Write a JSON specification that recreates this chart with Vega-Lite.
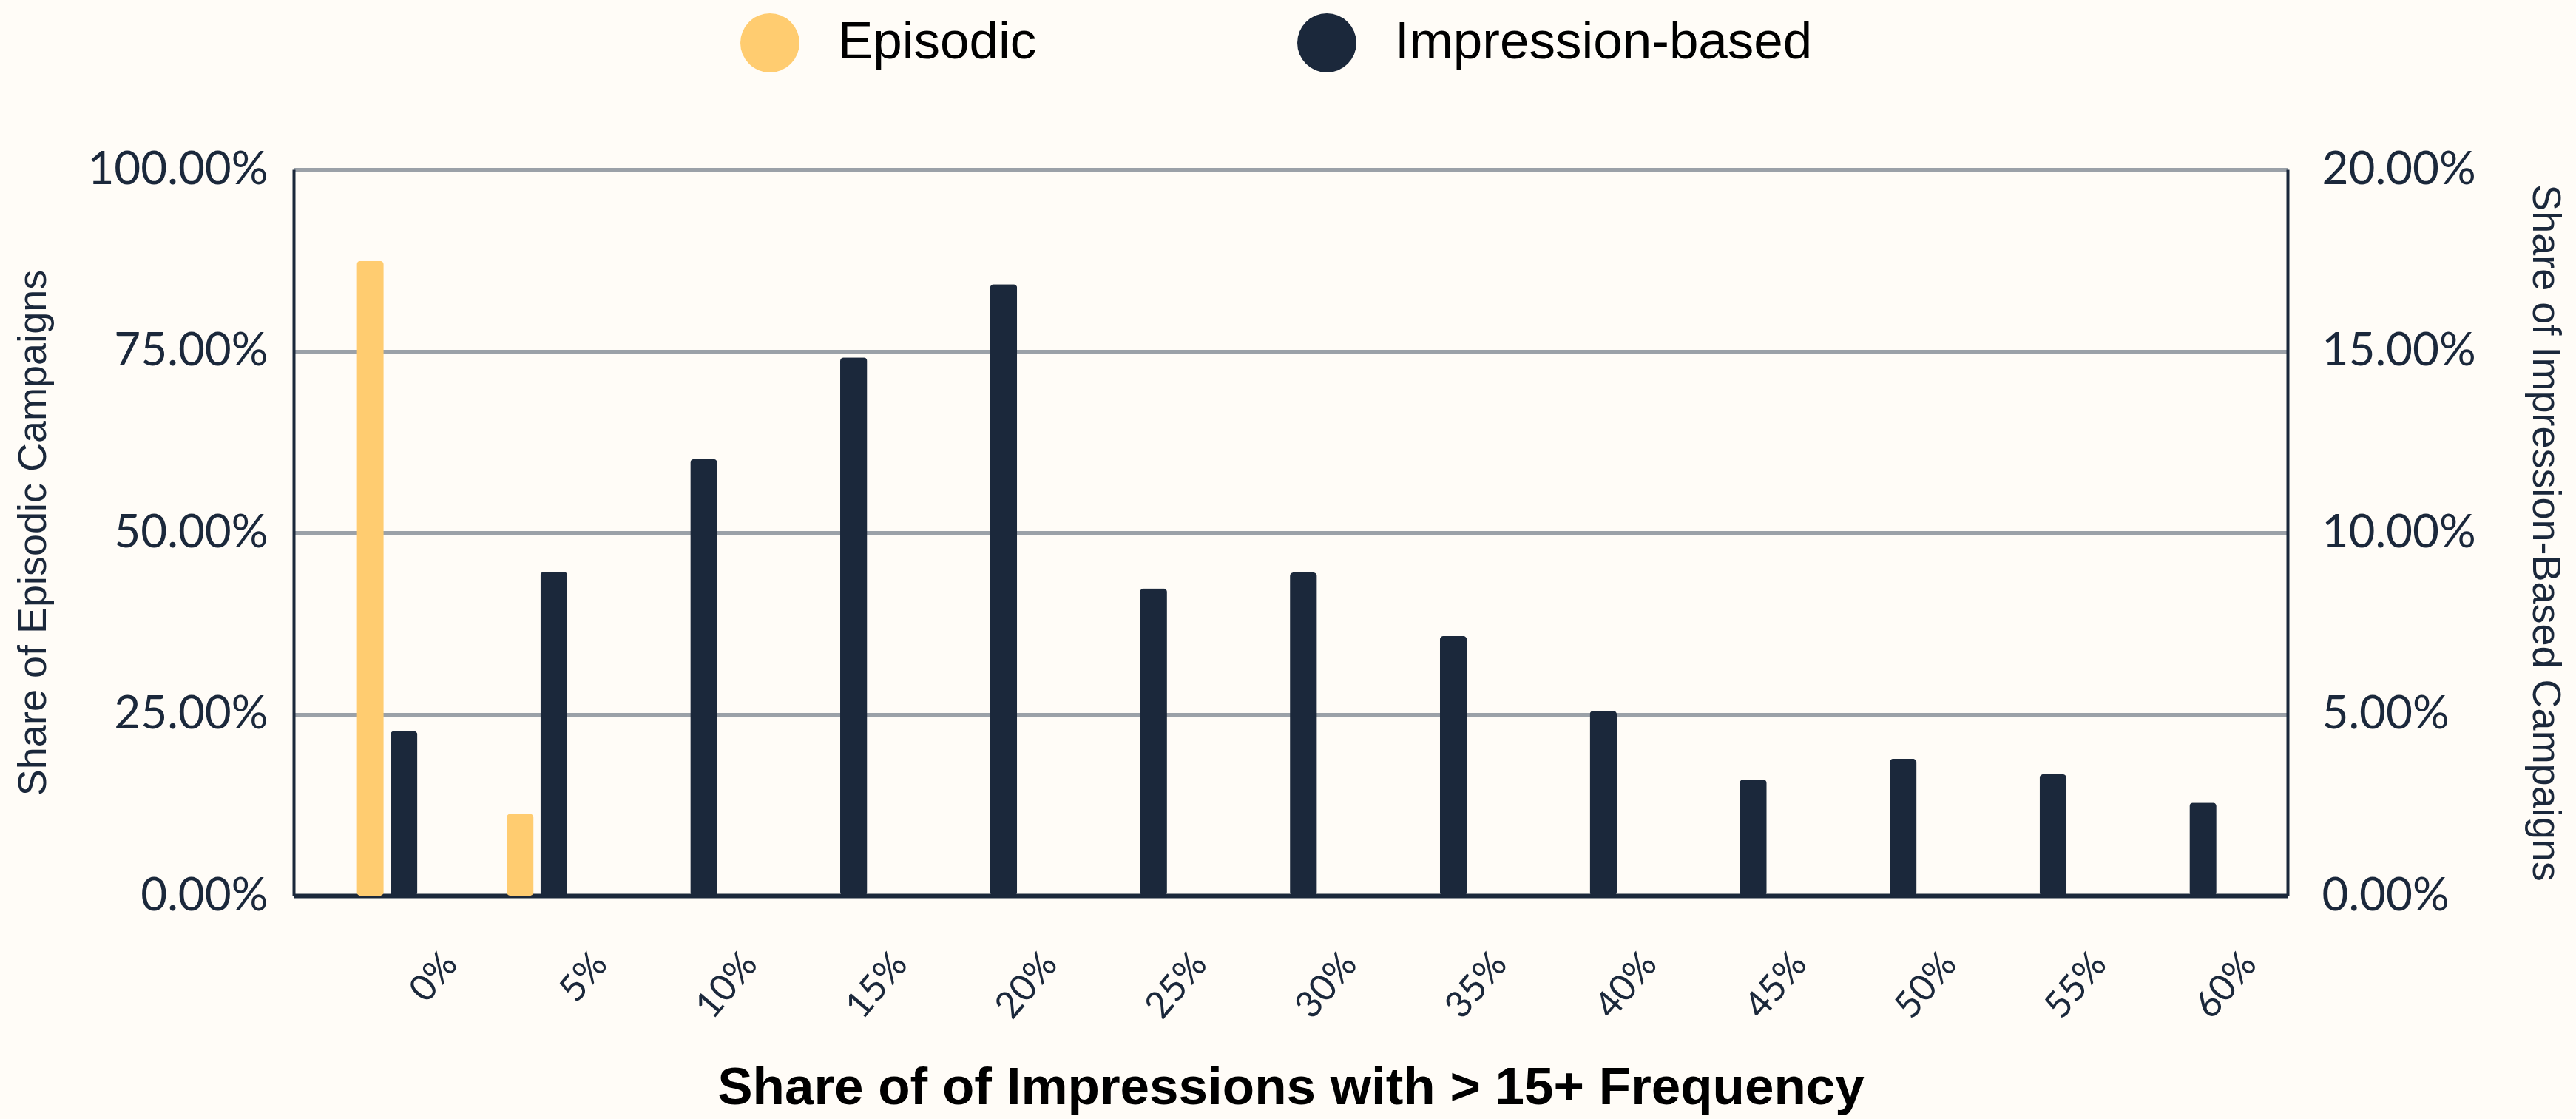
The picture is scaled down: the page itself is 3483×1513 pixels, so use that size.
{
  "$schema": "https://vega.github.io/schema/vega-lite/v6.json",
  "width": 2696,
  "height": 982,
  "autosize": {"type": "none"},
  "padding": {"left": 397, "top": 229, "right": 390, "bottom": 302},
  "background": "#FFFCF7",
  "config": {
    "view": {"stroke": null},
    "axis": {"zindex": 0, "labelLimit": 0}
  },
  "data": {
    "values": [
      {"bucket": "0%", "series": "Episodic", "value": 0.874},
      {"bucket": "5%", "series": "Episodic", "value": 0.1125},
      {"bucket": "0%", "series": "Impression-based", "value": 0.0453},
      {"bucket": "5%", "series": "Impression-based", "value": 0.0892},
      {"bucket": "10%", "series": "Impression-based", "value": 0.1202},
      {"bucket": "15%", "series": "Impression-based", "value": 0.1482},
      {"bucket": "20%", "series": "Impression-based", "value": 0.1684},
      {"bucket": "25%", "series": "Impression-based", "value": 0.0846},
      {"bucket": "30%", "series": "Impression-based", "value": 0.0890},
      {"bucket": "35%", "series": "Impression-based", "value": 0.0715},
      {"bucket": "40%", "series": "Impression-based", "value": 0.0509},
      {"bucket": "45%", "series": "Impression-based", "value": 0.0320},
      {"bucket": "50%", "series": "Impression-based", "value": 0.0377},
      {"bucket": "55%", "series": "Impression-based", "value": 0.0334},
      {"bucket": "60%", "series": "Impression-based", "value": 0.0256}
    ]
  },
  "encoding": {
    "x": {
      "field": "bucket",
      "type": "nominal",
      "scale": {
        "domain": ["0%", "5%", "10%", "15%", "20%", "25%", "30%", "35%", "40%", "45%", "50%", "55%", "60%"],
        "paddingInner": 0.595,
        "paddingOuter": 0.4476,
        "align": 0.47
      },
      "title": "Share of of Impressions with > 15+ Frequency",
      "axis": {
        "labelAngle": -50,
        "labelAlign": "right",
        "labelBaseline": "middle",
        "labelFont": "Lato",
        "labelFontSize": 50,
        "labelColor": "#1B283B",
        "labelPadding": 84,
        "labelOffset": 86,
        "labelOverlap": false,
        "ticks": false,
        "domainColor": "#1B283B",
        "domainWidth": 6,
        "titleFont": "Liberation Sans",
        "titleFontSize": 71,
        "titleFontWeight": "bold",
        "titleColor": "#000000",
        "titlePadding": 50
      }
    },
    "xOffset": {
      "field": "series",
      "type": "nominal",
      "scale": {"domain": ["Episodic", "Impression-based"], "paddingInner": 0.2}
    },
    "color": {
      "field": "series",
      "type": "nominal",
      "scale": {"domain": ["Episodic", "Impression-based"], "range": ["#FFCC70", "#1B283B"]},
      "legend": {
        "orient": "none",
        "legendX": 604,
        "legendY": -211,
        "direction": "horizontal",
        "title": null,
        "padding": 0,
        "symbolType": "circle",
        "symbolSize": 6400,
        "symbolStrokeWidth": 0,
        "symbolOpacity": 1,
        "labelFont": "Liberation Sans",
        "labelFontSize": 71,
        "labelColor": "#000000",
        "labelOffset": 52,
        "labelLimit": 0,
        "columnPadding": 352
      }
    }
  },
  "layer": [
    {
      "transform": [{"filter": "datum.series === 'Episodic'"}],
      "mark": {"type": "bar", "cornerRadius": 5},
      "encoding": {
        "y": {
          "field": "value",
          "type": "quantitative",
          "scale": {"domain": [0, 1], "nice": false},
          "title": "Share of Episodic Campaigns",
          "axis": {
            "orient": "left",
            "values": [0, 0.25, 0.5, 0.75, 1],
            "format": ".2%",
            "labelFont": "Lato",
            "labelFontSize": 62,
            "labelColor": "#1B283B",
            "labelPadding": 35,
            "ticks": false,
            "grid": true,
            "gridColor": "#9BA1A8",
            "gridWidth": 5,
            "domainColor": "#1B283B",
            "domainWidth": 4,
            "titleFont": "Liberation Sans",
            "titleFontSize": 54,
            "titleFontWeight": "normal",
            "titleColor": "#1B283B",
            "titlePadding": 125
          }
        }
      }
    },
    {
      "transform": [{"filter": "datum.series === 'Impression-based'"}],
      "mark": {"type": "bar", "cornerRadius": 5},
      "encoding": {
        "y": {
          "field": "value",
          "type": "quantitative",
          "scale": {"domain": [0, 0.2], "nice": false},
          "title": "Share of Impression-Based Campaigns",
          "axis": {
            "orient": "right",
            "values": [0, 0.05, 0.1, 0.15, 0.2],
            "format": ".2%",
            "labelFont": "Lato",
            "labelFontSize": 62,
            "labelColor": "#1B283B",
            "labelPadding": 46,
            "ticks": false,
            "grid": false,
            "domainColor": "#1B283B",
            "domainWidth": 4,
            "titleFont": "Liberation Sans",
            "titleFontSize": 54,
            "titleFontWeight": "normal",
            "titleColor": "#1B283B",
            "titlePadding": 120
          }
        }
      }
    }
  ],
  "resolve": {"scale": {"y": "independent"}}
}
